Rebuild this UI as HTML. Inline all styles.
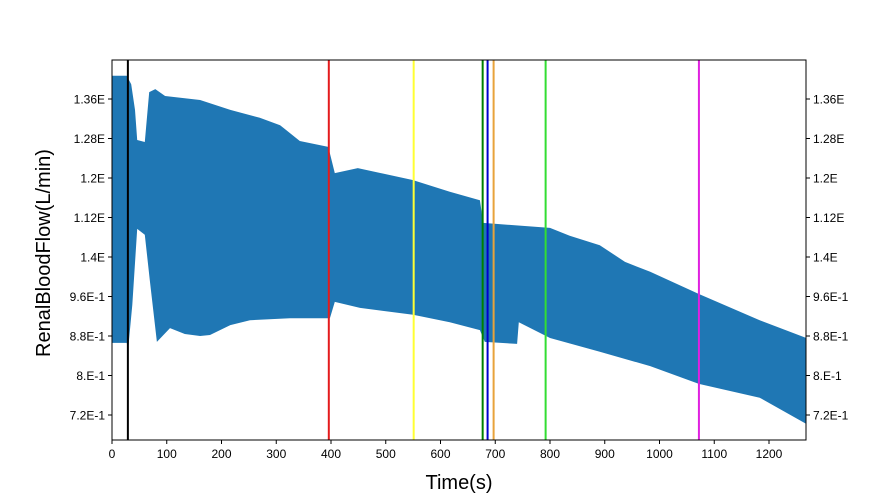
<!DOCTYPE html>
<html><head><meta charset="utf-8"><style>
body{margin:0;background:#fff;}
svg{display:block;font-family:"Liberation Sans","DejaVu Sans",sans-serif;}
</style></head><body>
<svg id="chart" width="896" height="496" viewBox="0 0 896 496">
<rect width="896" height="496" fill="#fff"/>
</svg>
<script>
const upperT=[0,27,35,42,46,60,68,79,97,161,216,270,307,343,395,407,449,549,617,672,678,800,836,891,937,983,1072,1183,1268];
const upperV=[1.407,1.407,1.39,1.338,1.277,1.273,1.374,1.380,1.366,1.358,1.338,1.322,1.307,1.275,1.263,1.210,1.220,1.196,1.172,1.155,1.109,1.099,1.083,1.064,1.030,1.010,0.965,0.912,0.876];
const lowerT=[0,27,29,37,46,60,69,82,106,133,161,179,216,252,325,398,407,453,550,617,672,681,740,743,800,891,983,1072,1183,1268];
const lowerV=[0.866,0.866,0.848,0.943,1.097,1.085,0.993,0.868,0.896,0.884,0.880,0.882,0.902,0.912,0.916,0.916,0.949,0.937,0.923,0.908,0.892,0.868,0.864,0.908,0.876,0.848,0.819,0.783,0.755,0.702];
const eventTimes=[29,396,551,677,686,697,792,1072];
const eventColors=["#000000","#e41a1c","#ffff33","#008000","#0000cc","#e8a33b","#33dd33","#e020e0"];
const xTicks=[0,100,200,300,400,500,600,700,800,900,1000,1100,1200];
const yTicks=[0.72,0.80,0.88,0.96,1.04,1.12,1.20,1.28,1.36];
const yTickLabels=["7.2E-1","8.E-1","8.8E-1","9.6E-1","1.4E","1.12E","1.2E","1.28E","1.36E"];

const L=112,R=806,T=60,B=440;
const x=t=>L+t*(769-112)/1200;
const y=v=>99+(1.36-v)/0.08*39.5;
const NS="http://www.w3.org/2000/svg";
const svg=document.getElementById('chart');
function mk(tag,attrs,parent){const e=document.createElementNS(NS,tag);for(const k in attrs)e.setAttribute(k,attrs[k]);(parent||svg).appendChild(e);return e;}

const clip=mk('clipPath',{id:'pc'});mk('rect',{x:L,y:T,width:R-L,height:B-T},clip);
let pts=[];
for(let i=0;i<upperT.length;i++)pts.push(x(upperT[i]).toFixed(1)+','+y(upperV[i]).toFixed(1));
for(let i=lowerT.length-1;i>=0;i--)pts.push(x(lowerT[i]).toFixed(1)+','+y(lowerV[i]).toFixed(1));
const area=mk('polygon',{points:pts.join(' '),fill:'#1f77b4','clip-path':'url(#pc)'});



for(let i=0;i<eventTimes.length;i++){
  const ln=mk('line',{x1:x(eventTimes[i]),x2:x(eventTimes[i]),y1:T,y2:B,stroke:eventColors[i],'stroke-width':2});
  
  
}
const frame=mk('rect',{x:L,y:T,width:R-L,height:B-T,fill:'none',stroke:'#000','stroke-width':1});



xTicks.forEach(t=>{
  const X=x(t);
  mk('line',{x1:X,x2:X,y1:B,y2:B+4,stroke:'#000'});
  const tx=mk('text',{x:X,y:B+18,'text-anchor':'middle','font-size':12});
  tx.textContent=t;
  
  
});
yTicks.forEach((v,i)=>{
  const Y=y(v);
  mk('line',{x1:L-4,x2:L,y1:Y,y2:Y,stroke:'#000'});
  mk('line',{x1:R,x2:R+4,y1:Y,y2:Y,stroke:'#000'});
  const a=mk('text',{x:L-7,y:Y+4.5,'text-anchor':'end','font-size':12});
  a.textContent=yTickLabels[i];
  
  
  const b=mk('text',{x:R+7,y:Y+4.5,'text-anchor':'start','font-size':12});
  b.textContent=yTickLabels[i];
  
  
});
const xt=mk('text',{x:459,y:489,'text-anchor':'middle','font-size':20});
xt.textContent='Time(s)';


const yt=mk('text',{x:0,y:0,'text-anchor':'middle','font-size':20,transform:'translate(50,253) rotate(-90)'});
yt.textContent='RenalBloodFlow(L/min)';


</script>
</body></html>
